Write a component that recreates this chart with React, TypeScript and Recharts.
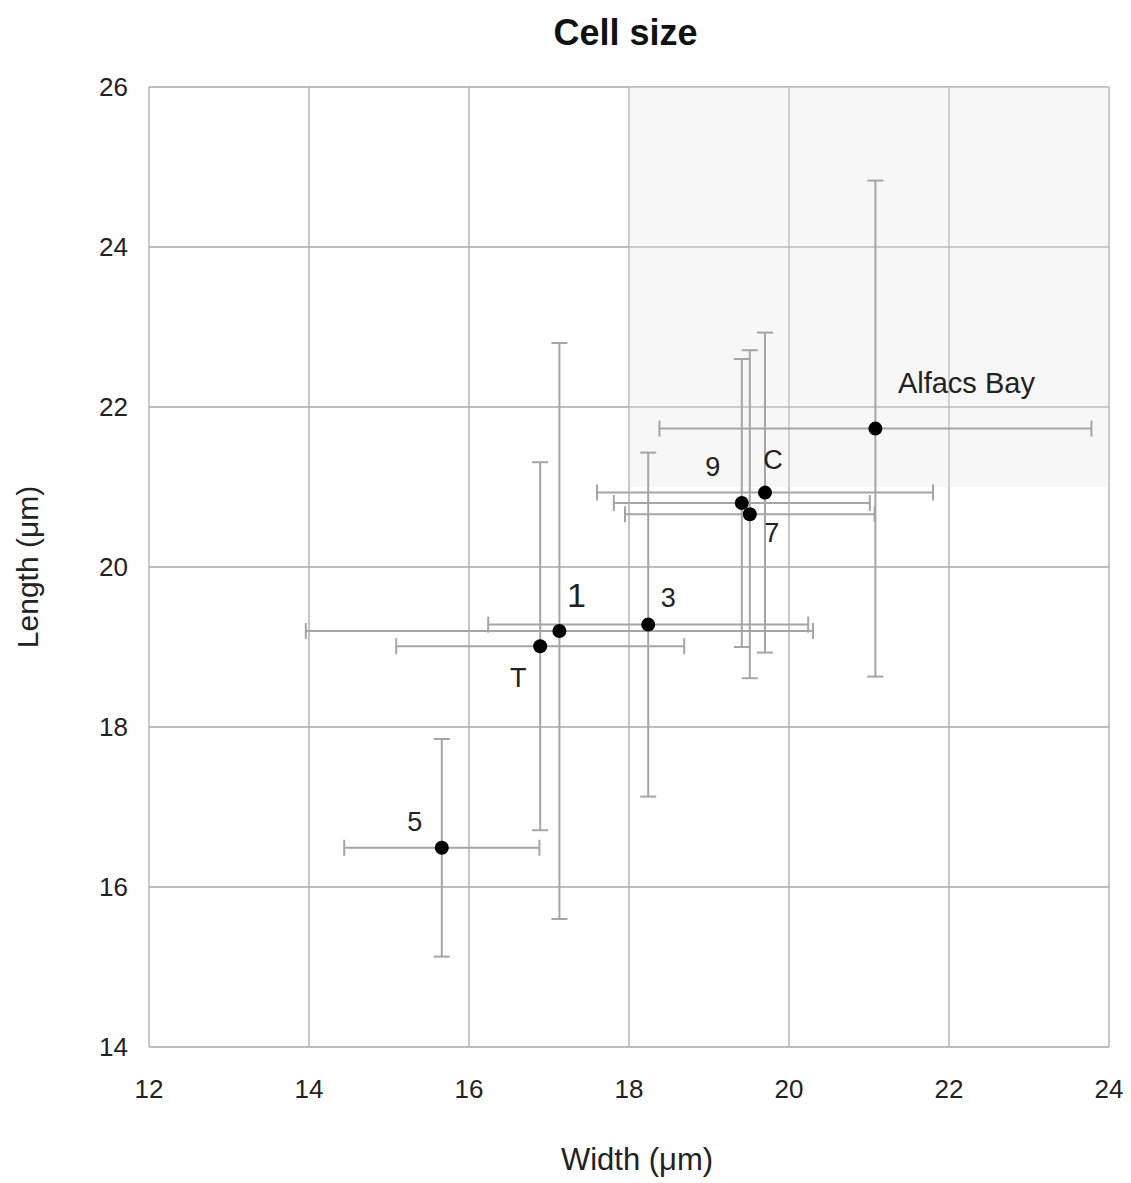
import React from 'react';
import {
  ScatterChart, Scatter, XAxis, YAxis, CartesianGrid, ErrorBar, ReferenceArea,
} from 'recharts';

const names = ['Alfacs Bay', 'C', '9', '7', '3', '1', 'T', '5'];
const widths = [21.08, 19.70, 19.41, 19.51, 18.24, 17.13, 16.89, 15.66];
const lengths = [21.73, 20.93, 20.80, 20.66, 19.28, 19.20, 19.01, 16.49];
const widthErr = [2.7, 2.1, 1.6, 1.56, 2.0, 3.17, 1.8, 1.22];
const lengthErr = [3.1, 2.0, 1.8, 2.05, 2.15, 3.6, 2.3, 1.36];
const xTicks = [12, 14, 16, 18, 20, 22, 24];
const yTicks = [14, 16, 18, 20, 22, 24, 26];

const labelStyle: Record<string, { dx: number; dy: number; size: number }> = {
  'Alfacs Bay': { dx: 91, dy: -46, size: 29 },
  C: { dx: 8, dy: -33, size: 27 },
  '9': { dx: -29, dy: -36, size: 27 },
  '7': { dx: 22, dy: 19, size: 27 },
  '3': { dx: 20, dy: -27, size: 27 },
  '1': { dx: 17, dy: -36, size: 34 },
  T: { dx: -22, dy: 32, size: 27 },
  '5': { dx: -27, dy: -26, size: 27 },
};

const data = names.map((n, i) => ({
  name: n,
  w: widths[i],
  l: lengths[i],
  wErr: widthErr[i],
  lErr: lengthErr[i],
}));

const FONT = '"Liberation Sans", Arial, sans-serif';

const Dot = (props: any) => {
  const { cx, cy, payload } = props;
  const st = labelStyle[payload.name];
  return (
    <g>
      <circle cx={cx} cy={cy} r={7} fill="#000" />
      <text
        x={cx + st.dx}
        y={cy + st.dy}
        textAnchor="middle"
        dominantBaseline="central"
        fontSize={st.size}
        fontFamily={FONT}
        fill="#222"
      >
        {payload.name}
      </text>
    </g>
  );
};

export default function App() {
  return (
    <div style={{ position: 'relative', width: 1115, height: 1170, fontFamily: FONT }}>
      <div
        style={{
          position: 'absolute', left: 0, top: 4, width: 1235, textAlign: 'center',
          fontSize: 36, fontWeight: 'bold', color: '#111', fontFamily: FONT,
        }}
      >
        Cell size
      </div>
      <ScatterChart
        width={1115}
        height={1170}
        margin={{ top: 79, right: 14, left: 0, bottom: 0 }}
      >
        <ReferenceArea x1={18} x2={24} y1={21} y2={26} fill="#e6e6e6" fillOpacity={0.32} stroke="none" />
        <CartesianGrid stroke="#a8a8a8" strokeWidth={1.3} horizontalValues={yTicks} verticalValues={xTicks} />
        <XAxis
          type="number"
          dataKey="w"
          domain={[12, 24]}
          ticks={xTicks}
          axisLine={false}
          tickLine={false}
          height={131}
          tick={{ fontSize: 26, fill: '#222', fontFamily: FONT, dy: 25 }}
          label={{ value: 'Width (\u03bcm)', position: 'insideBottom', offset: 8, dx: 8, fontSize: 31, fill: '#222', fontFamily: FONT }}
        />
        <YAxis
          type="number"
          dataKey="l"
          domain={[14, 26]}
          ticks={yTicks}
          axisLine={false}
          tickLine={false}
          width={141}
          tick={{ fontSize: 26, fill: '#222', fontFamily: FONT, dx: -13 }}
          label={{ value: 'Length (\u03bcm)', angle: -90, position: 'insideLeft', offset: 19, fontSize: 30, fill: '#222', fontFamily: FONT, style: { textAnchor: 'middle' } }}
        />
        <Scatter data={data} isAnimationActive={false} shape={Dot}>
          <ErrorBar dataKey="wErr" direction="x" stroke="#a5a5a5" strokeWidth={2} width={8} isAnimationActive={false} />
          <ErrorBar dataKey="lErr" direction="y" stroke="#a5a5a5" strokeWidth={2} width={8} isAnimationActive={false} />
        </Scatter>
      </ScatterChart>
    </div>
  );
}
